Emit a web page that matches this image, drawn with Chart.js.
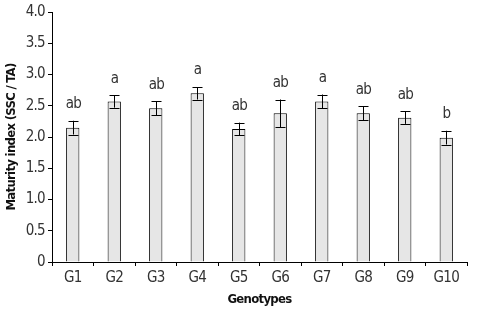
<!DOCTYPE html>
<html>
<head>
<meta charset="utf-8">
<script src="https://cdn.jsdelivr.net/npm/chart.js@4"></script>
<style>
  html, body { margin: 0; padding: 0; background: #fff; }
  #wrap { width: 477px; height: 311px; }
</style>
</head>
<body>
<div id="wrap"><canvas id="chart"></canvas></div>
<script>
// values
const genotypes = ['G1', 'G2', 'G3', 'G4', 'G5', 'G6', 'G7', 'G8', 'G9', 'G10'];
const maturity = [2.15, 2.57, 2.46, 2.70, 2.13, 2.38, 2.57, 2.38, 2.31, 1.99];
const errors = [0.11, 0.10, 0.11, 0.10, 0.10, 0.22, 0.11, 0.11, 0.10, 0.11];
const letters = ['ab', 'a', 'ab', 'a', 'ab', 'ab', 'a', 'ab', 'ab', 'b'];

const FONT = '"DejaVu Sans Condensed", "Liberation Sans", sans-serif';

// squeeze the text a bit so it looks like the narrow font of the original
function narrowText(chart) {
    chart.ctx.letterSpacing = '-0.7px';
}

// draws the error bars and the letters over each bar
const errorBarPlugin = {
    id: 'errorBars',
    beforeLayout: narrowText,
    beforeDraw: narrowText,
    afterDatasetsDraw(chart) {
        const ctx = chart.ctx;
        const y = chart.scales.y;
        const meta = chart.getDatasetMeta(0);
        ctx.save();
        ctx.strokeStyle = '#000';
        ctx.lineWidth = 1;
        meta.data.forEach((bar, i) => {
            const x = Math.round(bar.x) + 0.5;
            const top = y.getPixelForValue(maturity[i] + errors[i]);
            const bottom = y.getPixelForValue(maturity[i] - errors[i]);
            ctx.beginPath();
            ctx.moveTo(x, top);
            ctx.lineTo(x, bottom);
            ctx.moveTo(x - 5, Math.round(top) + 0.5);
            ctx.lineTo(x + 5, Math.round(top) + 0.5);
            ctx.moveTo(x - 5, Math.round(bottom) + 0.5);
            ctx.lineTo(x + 5, Math.round(bottom) + 0.5);
            ctx.stroke();

            ctx.fillStyle = '#333';
            ctx.font = '15px ' + FONT;
            ctx.textAlign = 'center';
            ctx.textBaseline = 'bottom';
            ctx.fillText(letters[i], x, top - 9);
        });
        ctx.restore();
    }
};

new Chart(document.getElementById('chart'), {
    type: 'bar',
    data: {
        labels: genotypes,
        datasets: [{
            data: maturity,
            backgroundColor: '#e6e6e6',
            borderColor: '#000',
            borderWidth: 1,
            categoryPercentage: 1,
            barPercentage: 0.32
        }]
    },
    options: {
        responsive: true,
        maintainAspectRatio: false,
        animation: false,
        layout: { padding: { left: 0, right: 10, top: 12, bottom: 0 } },
        plugins: {
            legend: { display: false },
            tooltip: { enabled: false }
        },
        scales: {
            x: {
                grid: { offset: true, drawOnChartArea: false, drawTicks: true, tickLength: 4, color: '#000' },
                border: { color: '#000', width: 1 },
                ticks: { color: '#333', font: { family: FONT, size: 15 }, padding: 3 },
                title: { display: true, text: 'Genotypes', color: '#111', font: { family: FONT, size: 13, weight: 'bold' }, padding: { top: 1 } },
                afterFit(scale) { scale.height = 49; }
            },
            y: {
                min: 0,
                max: 4,
                ticks: {
                    stepSize: 0.5,
                    color: '#333',
                    font: { family: FONT, size: 15 },
                    padding: 3,
                    callback: v => v === 0 ? '0' : v.toFixed(1)
                },
                grid: { drawOnChartArea: false, drawTicks: true, tickLength: 4, color: '#000' },
                border: { color: '#000', width: 1 },
                title: { display: true, text: 'Maturity index (SSC / TA)', color: '#111', font: { family: FONT, size: 13, weight: 'bold' }, padding: { bottom: 2 } },
                afterFit(scale) { scale.width = 52; }
            }
        }
    },
    plugins: [errorBarPlugin]
});
</script>
</body>
</html>
